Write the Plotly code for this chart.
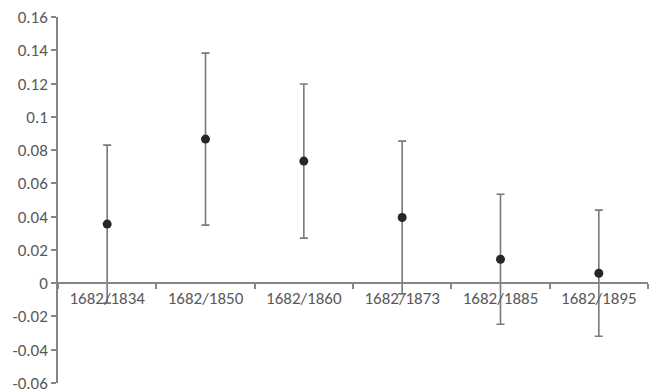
import plotly.graph_objects as go

# Estimates with symmetric confidence intervals for each period comparison
periods = ["1682/1834", "1682/1850", "1682/1860", "1682/1873", "1682/1885", "1682/1895"]
estimates = [0.0355, 0.0866, 0.0734, 0.0395, 0.0144, 0.0060]
half_width = [0.0475, 0.0517, 0.0463, 0.0459, 0.0391, 0.0379]

y_min, y_max = -0.06, 0.16
y_ticks = [-0.06, -0.04, -0.02, 0, 0.02, 0.04, 0.06, 0.08, 0.1, 0.12, 0.14, 0.16]
y_tick_text = ["-0.06", "-0.04", "-0.02", "0", "0.02", "0.04", "0.06", "0.08", "0.1", "0.12", "0.14", "0.16"]

axis_grey = "#868686"
text_grey = "#595959"
font_family = "Carlito, Lato, 'Open Sans', sans-serif"
font_size = 17

fig = go.Figure(
    go.Scatter(
        x=periods,
        y=estimates,
        mode="markers",
        marker=dict(color="#262626", size=9),
        error_y=dict(type="data", array=half_width, visible=True,
                     color="#7a7a7a", thickness=1.6, width=4),
        showlegend=False,
    )
)

fig.update_layout(
    width=651, height=391,
    margin=dict(l=58, r=3, t=17, b=8),
    plot_bgcolor="white", paper_bgcolor="white",
    font=dict(family=font_family, size=font_size, color=text_grey),
    xaxis=dict(
        type="category",
        anchor="free",
        position=(0 - y_min) / (y_max - y_min),
        showline=True, linecolor=axis_grey, linewidth=1.5,
        ticks="outside", tickson="boundaries", ticklen=5,
        tickcolor=axis_grey, tickwidth=1.5,
        showgrid=False, zeroline=False, automargin=False,
        range=[-0.5, len(periods) - 0.5],
        tickfont=dict(size=font_size, color=text_grey),
    ),
    yaxis=dict(
        range=[y_min, y_max],
        tickvals=y_ticks, ticktext=y_tick_text,
        showline=True, linecolor=axis_grey, linewidth=1.5,
        ticks="outside", ticklen=5, tickcolor=axis_grey, tickwidth=1.5,
        ticklabeloverflow="allow", automargin=False,
        showgrid=False, zeroline=False,
        tickfont=dict(size=font_size, color=text_grey),
    ),
)

fig.write_html("out.html")
